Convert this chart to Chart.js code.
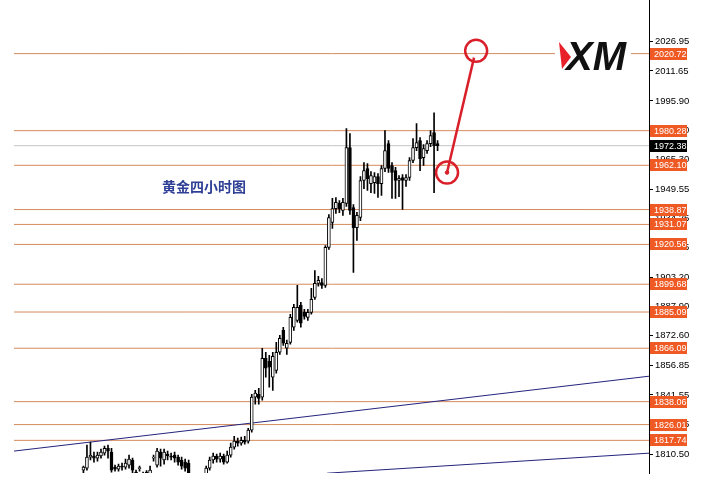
<!DOCTYPE html>
<html>
<head>
<meta charset="utf-8">
<script src="https://cdn.jsdelivr.net/npm/chart.js@4.4.1/dist/chart.umd.min.js"></script>
<style>
  html,body{margin:0;padding:0;background:#fff;}
  #wrap{width:706px;height:502px;}
</style>
</head>
<body>
<div id="wrap"><canvas id="goldChart" width="706" height="502"></canvas></div>
<script>
// 4h gold candles, oldest first
const candleOpen = [1802.1,1803.2,1808.9,1809.5,1808.4,1809.5,1811.0,1813.6,1811.6,1803.7,
  1802.6,1804.2,1803.7,1804.7,1807.4,1801.1,1802.9,1799.0,1801.1,1800.0,
  1808.4,1804.7,1811.6,1807.4,1810.5,1809.5,1810.0,1808.9,1807.4,1806.3,
  1805.8,1799.0,1795.8,1794.3,1796.9,1800.0,1803.2,1807.4,1809.5,1807.9,
  1809.5,1806.3,1810.0,1814.2,1817.3,1816.3,1817.8,1817.3,1823.1,1840.4,
  1841.9,1840.4,1860.8,1859.2,1850.9,1854.5,1864.0,1875.5,1866.1,1869.2,
  1877.1,1880.7,1888.6,1884.9,1882.3,1884.9,1892.8,1900.1,1900.6,1899.1,
  1919.0,1932.1,1939.4,1942.1,1938.4,1942.1,1971.4,1939.9,1929.4,1934.7,
  1954.1,1960.4,1952.5,1953.0,1956.2,1952.5,1960.4,1973.5,1962.0,1959.3,
  1954.1,1955.7,1954.1,1955.7,1964.6,1971.4,1975.1,1966.1,1969.8,1973.5,
  1979.3,1973.5];
const candleHigh = [1804.2,1815.2,1816.8,1811.6,1811.6,1813.1,1814.7,1815.2,1813.6,1804.7,
  1805.3,1805.8,1807.9,1810.0,1808.4,1802.1,1804.2,1801.1,1801.9,1804.2,
  1810.0,1813.6,1813.1,1813.1,1812.1,1811.0,1811.6,1810.0,1808.9,1807.9,
  1807.4,1800.0,1797.9,1799.0,1800.0,1804.2,1808.9,1811.0,1810.5,1811.0,
  1810.5,1812.1,1816.3,1819.9,1818.9,1819.4,1819.9,1824.1,1841.9,1844.0,
  1845.1,1866.1,1864.0,1862.4,1864.0,1869.2,1872.9,1877.1,1870.3,1883.9,
  1889.1,1899.1,1890.2,1886.5,1886.5,1897.5,1906.9,1903.8,1902.7,1920.0,
  1936.3,1944.7,1945.2,1943.6,1944.7,1981.4,1978.7,1941.5,1937.4,1956.2,
  1963.5,1963.0,1958.8,1958.3,1957.8,1962.0,1980.3,1975.1,1963.5,1961.0,
  1956.7,1957.2,1957.2,1966.1,1976.1,1984.0,1976.6,1973.0,1975.1,1980.3,
  1989.7,1975.1];
const candleLow = [1800.5,1802.1,1807.4,1806.3,1806.8,1808.4,1810.0,1808.4,1801.1,1801.6,
  1801.6,1802.1,1802.6,1803.2,1800.5,1796.9,1801.6,1794.8,1797.9,1798.4,
  1806.8,1803.7,1804.2,1805.3,1807.4,1807.4,1806.3,1804.7,1802.6,1801.6,
  1799.0,1793.7,1791.6,1792.2,1794.8,1798.4,1802.1,1805.8,1806.3,1806.3,
  1805.3,1805.8,1808.9,1813.1,1814.7,1815.2,1815.7,1816.3,1822.0,1836.7,
  1836.7,1838.8,1850.9,1845.6,1844.0,1853.0,1862.9,1867.6,1862.9,1868.2,
  1875.5,1879.7,1877.1,1881.3,1880.7,1883.9,1891.7,1898.6,1897.5,1898.0,
  1917.9,1929.0,1936.8,1937.3,1935.8,1940.5,1936.3,1905.9,1922.7,1933.1,
  1949.9,1948.9,1947.8,1947.3,1945.2,1946.3,1958.8,1958.3,1944.7,1944.7,
  1945.7,1938.9,1951.0,1954.1,1963.5,1969.8,1959.3,1962.0,1968.3,1971.9,
  1947.8,1969.8];
const candleClose = [1803.7,1808.9,1810.0,1808.4,1810.0,1811.6,1813.6,1812.1,1802.1,1802.6,
  1804.2,1803.7,1805.8,1807.9,1802.1,1799.0,1803.2,1796.9,1800.0,1802.1,
  1808.9,1812.1,1808.4,1811.6,1809.5,1808.9,1808.4,1806.3,1804.2,1803.2,
  1800.5,1795.8,1793.7,1796.9,1799.5,1803.2,1807.4,1809.5,1807.9,1809.5,
  1806.3,1810.0,1814.2,1817.3,1816.3,1817.8,1816.8,1823.1,1840.4,1842.5,
  1839.8,1860.8,1855.6,1856.1,1861.9,1864.0,1871.3,1868.7,1868.7,1882.3,
  1887.5,1887.5,1879.2,1882.8,1884.9,1891.7,1900.1,1901.7,1899.1,1919.0,
  1934.7,1939.4,1942.6,1939.4,1942.6,1971.4,1938.4,1929.4,1935.8,1954.1,
  1959.3,1955.1,1956.7,1956.2,1952.5,1960.4,1969.8,1960.4,1958.3,1954.1,
  1955.2,1954.1,1955.7,1964.6,1971.4,1974.0,1965.6,1970.9,1973.5,1977.7,
  1972.4,1972.38];

// horizontal levels and the current price
const levelPrices = [2020.72,1980.28,1962.10,1938.87,1931.07,1920.56,1899.68,1885.09,1866.09,1838.06,1826.01,1817.74];
const lastPrice = 1972.38;
const tickValues = [2026.95,2011.65,1995.90,1980.60,1965.30,1949.55,1934.25,1918.95,1903.20,1887.90,1872.60,1856.85,1841.55,1826.25,1810.50];

// trendlines, [bar index, price]
const trendUpper = [[-19.8,1812.1],[161.3,1851.4]];
const trendLower = [[69.5,1800.5],[161.3,1811.0]];
// red projection arrow: from the circle near price to the target circle
const projLine = [[103.7,1958.3],[111.4,2018.6]];
const projCircles = [[103.7,1958.3],[112.0,2022.2]];

const title = '黄金四小时图';
const xMin = -23.8, xMax = 161.3, lineStart = -19.8;

const wicks = candleLow.map((l,i)=>({x:i, y:[l, candleHigh[i]]}));
const bodies = candleOpen.map((o,i)=>({x:i, y:[o, candleClose[i]]}));
const bullish = candleOpen.map((o,i)=>candleClose[i] >= o);

const levelSets = levelPrices.map(p=>({
  type:'line', data:[{x:lineStart,y:p},{x:xMax,y:p}],
  borderColor:'#d58b5c', borderWidth:1, pointRadius:0, order:5
}));

const overlayPlugin = {
  id:'overlay',
  afterDraw(chart){
    const ctx = chart.ctx;
    const ys = chart.scales.y;
    const area = chart.chartArea;
    ctx.save();
    // axis line runs up to the top edge
    ctx.strokeStyle = '#000';
    ctx.lineWidth = 1;
    ctx.beginPath();
    ctx.moveTo(area.right + 0.5, 0);
    ctx.lineTo(area.right + 0.5, area.top);
    ctx.stroke();
    // level price boxes on the axis
    ctx.font = '9px "Liberation Sans", Arial, sans-serif';
    ctx.textBaseline = 'middle';
    ctx.textAlign = 'left';
    const boxes = levelPrices.map(p=>({p, bg:'#ef5a24'})).concat([{p:lastPrice, bg:'#000'}]);
    boxes.forEach(b=>{
      const y = Math.round(ys.getPixelForValue(b.p));
      ctx.fillStyle = b.bg;
      ctx.fillRect(650, y-6, 37, 12);
      ctx.fillStyle = '#fff';
      ctx.fillText(b.p.toFixed(2), 654, y+0.5);
    });
    // logo
    ctx.fillStyle = '#fff';
    ctx.fillRect(555, 36, 76, 38);
    ctx.fillStyle = '#e8202a';
    ctx.beginPath();
    ctx.moveTo(559,42); ctx.lineTo(571,57); ctx.lineTo(562,69); ctx.closePath();
    ctx.fill();
    ctx.fillStyle = '#111';
    ctx.font = 'italic bold 40px "Liberation Sans", Arial, sans-serif';
    ctx.textBaseline = 'alphabetic';
    ctx.fillText('XM', 566, 70);
    // title
    ctx.fillStyle = '#2f3f96';
    ctx.font = 'bold 14px "Noto Sans CJK SC", sans-serif';
    ctx.textBaseline = 'middle';
    ctx.fillText(title, 162, 187);
    ctx.restore();
  }
};

new Chart(document.getElementById('goldChart'), {
  type:'bar',
  data:{
    datasets:[
      {type:'line', data:projLine.map(p=>({x:p[0],y:p[1]})), borderColor:'#d9202a', borderWidth:2.5, pointRadius:0, order:0},
      {type:'line', data:projCircles.map(p=>({x:p[0],y:p[1]})), showLine:false, pointRadius:11, pointBorderWidth:2.5,
        pointBorderColor:'#d9202a', pointBackgroundColor:'rgba(0,0,0,0)', order:0},
      {type:'line', data:[{x:projCircles[0][0],y:projCircles[0][1]}], showLine:false, pointRadius:1.8,
        pointBorderColor:'#d9202a', pointBackgroundColor:'#d9202a', order:0},
      {type:'bar', data:bodies, barThickness:3, minBarLength:1, grouped:false,
        backgroundColor:bullish.map(b=>b?'#fff':'#000'), borderColor:'#000', borderWidth:{left:1,right:1,top:1,bottom:1},
        borderSkipped:false, order:1},
      {type:'bar', data:wicks, barThickness:1, grouped:false, backgroundColor:'#000', order:2},
      {type:'line', data:trendUpper.map(p=>({x:p[0],y:p[1]})), borderColor:'#24247e', borderWidth:1, pointRadius:0, order:3},
      {type:'line', data:trendLower.map(p=>({x:p[0],y:p[1]})), borderColor:'#24247e', borderWidth:1, pointRadius:0, order:3},
      {type:'line', data:[{x:lineStart,y:lastPrice},{x:xMax,y:lastPrice}], borderColor:'#c4c4c4', borderWidth:1, pointRadius:0, order:4},
      ...levelSets
    ]
  },
  options:{
    responsive:false,
    animation:false,
    layout:{autoPadding:false, padding:{left:0,right:0,top:0,bottom:29}},
    plugins:{legend:{display:false}, tooltip:{enabled:false}},
    scales:{
      x:{type:'linear', display:false, min:xMin, max:xMax, offset:false},
      y:{
        position:'right', min:1800.6, max:2044.82,
        afterBuildTicks(scale){ scale.ticks = tickValues.map(v=>({value:v})); },
        afterFit(scale){ scale.width = 57; },
        grid:{drawOnChartArea:false, drawTicks:true, tickLength:4, color:'#000'},
        border:{display:true, color:'#000', width:1},
        ticks:{color:'#000', padding:2, font:{size:9.5, family:'"Liberation Sans", Arial, sans-serif'},
          callback:v=>Number(v).toFixed(2)}
      }
    }
  },
  plugins:[overlayPlugin]
});
</script>
</body>
</html>
